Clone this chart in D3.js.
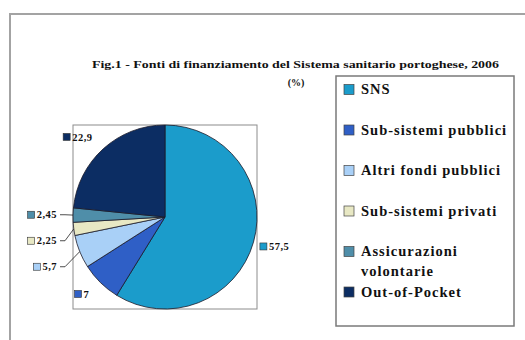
<!DOCTYPE html>
<html>
<head>
<meta charset="utf-8">
<script src="https://cdn.jsdelivr.net/npm/d3@7"></script>
<style>
  html, body { margin: 0; padding: 0; background: #fff; }
  svg { display: block; }
</style>
</head>
<body>
<svg id="chart" width="525" height="340"></svg>
<script>
// ---- data ----
const categories = ["SNS", "Sub-sistemi pubblici", "Altri fondi pubblici", "Sub-sistemi privati", "Assicurazioni volontarie", "Out-of-Pocket"];
const values = [57.5, 7, 5.7, 2.25, 2.45, 22.9];
const colors = ["#1b9ccb", "#2f5fc6", "#a9d0f7", "#e8e8c4", "#4f8ea9", "#0c2d63"];
const titleLines = ["Fig.1 - Fonti di finanziamento del Sistema sanitario  portoghese, 2006", "(%)"];

const FONT = "'Liberation Serif', 'Times New Roman', Tinos, 'DejaVu Serif', serif";
const svg = d3.select("#chart")
  .style("font-family", FONT).style("font-weight", "bold");

// outer frame (right and bottom edges outside the picture)
svg.append("rect").attr("x", 10).attr("y", 14).attr("width", 600).attr("height", 400)
  .attr("fill", "none").attr("stroke", "#a3a3a3").attr("stroke-width", 2);

function txt(sel) {
  return sel.append("text").style("font-family", FONT).style("font-weight", "bold").attr("fill", "#111");
}

// title
txt(svg).attr("x", 92).attr("y", 68).attr("font-size", 11)
  .attr("textLength", 407).attr("lengthAdjust", "spacingAndGlyphs")
  .text(titleLines[0]);
txt(svg).attr("x", 296).attr("y", 86).attr("font-size", 10)
  .attr("text-anchor", "middle").text(titleLines[1]);

// plot area
const cx = 165, cy = 217, r = 92;
svg.append("rect").attr("x", cx - r).attr("y", cy - r).attr("width", 2 * r).attr("height", 2 * r)
  .attr("fill", "none").attr("stroke", "#8c8c8c").attr("stroke-width", 1);

const color = d3.scaleOrdinal().domain(categories).range(colors);
const pie = d3.pie().sort(null).value(d => d.v);
const data = categories.map((c, i) => ({ c, v: values[i] }));
const arcs = pie(data);
const arc = d3.arc().innerRadius(0).outerRadius(r);

const g = svg.append("g").attr("transform", `translate(${cx},${cy})`);
g.selectAll("path").data(arcs).join("path")
  .attr("d", arc)
  .attr("fill", d => color(d.data.c))
  .attr("stroke", "#1a1a2a").attr("stroke-width", 0.8);

// data labels
const fmt = v => String(v).replace(".", ",");
const labR = r + 16;
const labels = arcs.map(a => {
  const m = (a.startAngle + a.endAngle) / 2;
  const dx = Math.sin(m), dy = -Math.cos(m);
  const small = a.data.v < 6;
  let x = cx + labR * dx, y = cy + labR * dy;
  if (small && dx < 0) x = Math.min(x, cx - labR);
  return { a, m, dx, dy, x, y, small, left: dx < 0, edge: [cx + r * dx, cy + r * dy] };
});
// resolve vertical overlaps on the left side
const leftL = labels.filter(l => l.left).sort((p, q) => p.y - q.y);
for (let i = 1; i < leftL.length; i++) {
  if (leftL[i].y < leftL[i - 1].y + 26) leftL[i].y = leftL[i - 1].y + 26;
}

const lg = svg.append("g");
labels.forEach(l => {
  if (l.small) {
    const x0 = l.x + 3;
    lg.append("polyline")
      .attr("points", [[x0, l.y], [x0 + 5, l.y], l.edge].map(p => p.join(",")).join(" "))
      .attr("fill", "none").attr("stroke", "#222").attr("stroke-width", 0.8);
  }
  const t = txt(lg).attr("x", l.x).attr("y", l.y).attr("dy", "0.35em")
    .attr("font-size", 10.5).attr("letter-spacing", 0.5)
    .attr("text-anchor", l.left ? "end" : "start")
    .text(fmt(l.a.data.v));
  const tw = t.node().getComputedTextLength();
  const textStart = l.left ? l.x - tw : l.x;
  lg.append("rect").attr("x", textStart - 9).attr("y", l.y - 3.5).attr("width", 7).attr("height", 7)
    .attr("fill", color(l.a.data.c)).attr("stroke", "#333").attr("stroke-width", 0.6);
});

// legend
svg.append("rect").attr("x", 336).attr("y", 76).attr("width", 178).attr("height", 250)
  .attr("fill", "#fff").attr("stroke", "#7a7a7a").attr("stroke-width", 1.5);
const leg = svg.append("g");
categories.forEach((c, i) => {
  const y = 89 + i * 40.5;
  leg.append("rect").attr("x", 344).attr("y", y - 4.5).attr("width", 10).attr("height", 10)
    .attr("fill", color(c)).attr("stroke", "#444").attr("stroke-width", 0.7);
  const t = txt(leg).attr("x", 361).attr("y", y).attr("dy", "0.35em")
    .attr("font-size", 14.5).attr("letter-spacing", 1);
  // wrap words to fit the legend box
  const words = c.split(" ");
  let line = [];
  let ts = t.append("tspan").attr("x", 361);
  words.forEach(w => {
    line.push(w);
    ts.text(line.join(" "));
    if (ts.node().getComputedTextLength() > 156 && line.length > 1) {
      line.pop();
      ts.text(line.join(" "));
      line = [w];
      ts = t.append("tspan").attr("x", 361).attr("dy", "1.35em").text(w);
    }
  });
});
</script>
</body>
</html>
